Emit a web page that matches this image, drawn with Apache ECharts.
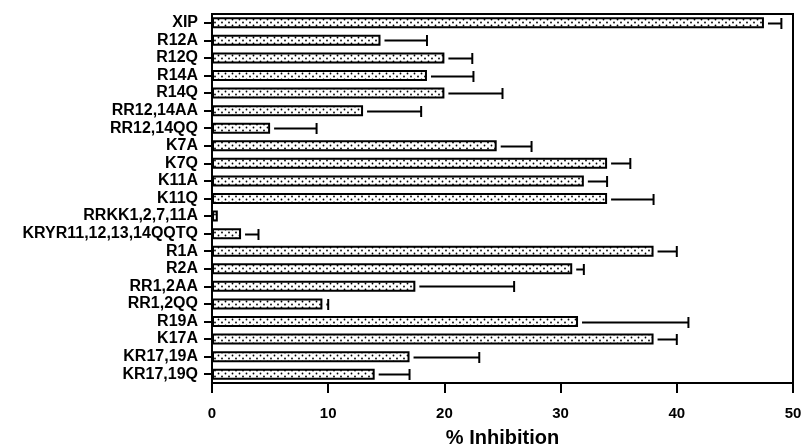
<!DOCTYPE html>
<html>
<head>
<meta charset="utf-8">
<script src="https://cdn.jsdelivr.net/npm/echarts@6/dist/echarts.min.js"></script>
<style>
html,body{margin:0;padding:0;background:#fff;}
#chart{width:805px;height:448px;}
</style>
</head>
<body>
<div id="chart"></div>
<script>
var categories = ['XIP','R12A','R12Q','R14A','R14Q','RR12,14AA','RR12,14QQ','K7A','K7Q','K11A','K11Q','RRKK1,2,7,11A','KRYR11,12,13,14QQTQ','R1A','R2A','RR1,2AA','RR1,2QQ','R19A','K17A','KR17,19A','KR17,19Q'];
var inhibition = [47.5,14.5,20,18.5,20,13,5,24.5,34,32,34,0.5,2.5,38,31,17.5,9.5,31.5,38,17,14];
var errorPlus = [1.5,4,2.4,4,5,5,4,3,2,2,4,0,1.5,2,1,8.5,0.5,9.5,2,6,3];
var xTicks = [0,10,20,30,40,50];
var axisName = '% Inhibition';

// dotted fill pattern
var pc = document.createElement('canvas');
pc.width = 7; pc.height = 6;
var pctx = pc.getContext('2d');
pctx.fillStyle = '#ffffff';
pctx.fillRect(0,0,7,6);
pctx.fillStyle = '#000000';
pctx.beginPath(); pctx.arc(1.5,1.5,0.9,0,Math.PI*2); pctx.fill();
pctx.beginPath(); pctx.arc(5,4.5,0.9,0,Math.PI*2); pctx.fill();

var errData = categories.map(function(c,i){ return [i, inhibition[i], errorPlus[i]]; });

var font = '"Liberation Sans", Arial, Helvetica, sans-serif';
var chart = echarts.init(document.getElementById('chart'), null, {renderer:'canvas'});
chart.setOption({
  animation: false,
  backgroundColor: '#ffffff',
  grid: {left: 212, right: 12, top: 14, bottom: 65, show: true, borderColor: '#000', borderWidth: 2, backgroundColor: 'transparent', containLabel: false, outerBoundsMode: 'none'},
  xAxis: {
    type: 'value', min: xTicks[0], max: xTicks[xTicks.length-1], interval: xTicks[1]-xTicks[0],
    axisLine: {show: true, lineStyle: {color: '#000', width: 2}},
    axisTick: {show: true, length: 10, lineStyle: {color: '#000', width: 2}},
    splitLine: {show: false},
    axisLabel: {color: '#000', fontFamily: font, fontWeight: 'bold', fontSize: 15, margin: 23},
    name: axisName, nameLocation: 'middle', nameGap: 45,
    nameTextStyle: {color: '#000', fontFamily: font, fontWeight: 'bold', fontSize: 20}
  },
  yAxis: {
    type: 'category', data: categories, inverse: true,
    axisLine: {show: true, lineStyle: {color: '#000', width: 2}},
    axisTick: {show: true, alignWithLabel: true, length: 8, lineStyle: {color: '#000', width: 2}},
    axisLabel: {color: '#000', fontFamily: font, fontWeight: 'bold', fontSize: 16, margin: 14, interval: 0}
  },
  series: [
    {
      type: 'bar', data: inhibition, barWidth: 11,
      itemStyle: {color: {image: pc, repeat: 'repeat'}, borderColor: '#000', borderWidth: 2}
    },
    {
      type: 'custom', data: errData,
      renderItem: function(params, api){
        var idx = api.value(0), mean = api.value(1), err = api.value(2);
        if (!err) return null;
        var p0 = api.coord([mean, idx]);
        var p1 = api.coord([mean + err, idx]);
        var x0 = p0[0] + 4, x1 = p1[0];
        var y = Math.round(p0[1]) + 0.5;
        var h = 5.5;
        var children = [];
        if (x1 > x0) {
          children.push({type:'line', shape:{x1:x0, y1:y, x2:x1, y2:y}, style:{stroke:'#000', lineWidth:2}});
        }
        children.push({type:'line', shape:{x1:x1, y1:y-h, x2:x1, y2:y+h}, style:{stroke:'#000', lineWidth:2}});
        return {type:'group', children: children};
      },
      z: 3
    }
  ]
});
</script>
</body>
</html>
